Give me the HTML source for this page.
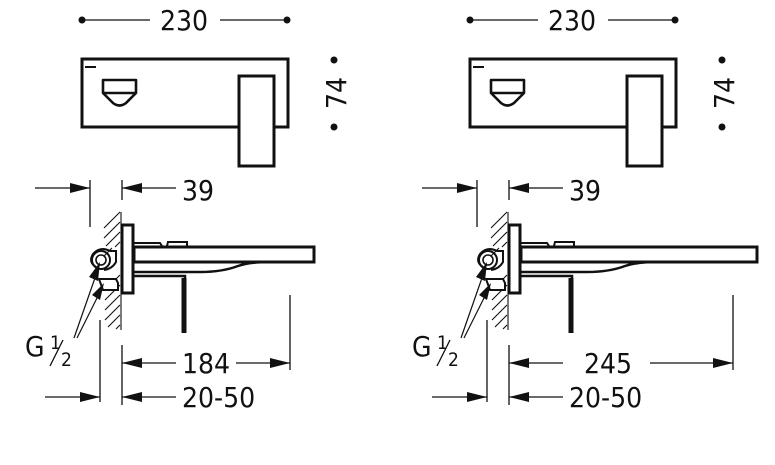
<!DOCTYPE html>
<html><head><meta charset="utf-8"><style>
html,body{margin:0;padding:0;background:#fff}
svg{display:block}
text{font-family:"DejaVu Sans Condensed","Liberation Sans",sans-serif;fill:#111}
</style></head><body>
<svg width="775" height="465" viewBox="0 0 775 465" xmlns="http://www.w3.org/2000/svg">
<!-- LEFT -->
<g>
<circle cx="82" cy="20" r="3.5" fill="#111"/><circle cx="287" cy="20" r="3.5" fill="#111"/>
<line x1="82" y1="20" x2="150" y2="20" stroke="#111" stroke-width="1.3"/>
<line x1="220" y1="20" x2="287" y2="20" stroke="#111" stroke-width="1.3"/>
<text x="184" y="30" font-size="28" text-anchor="middle">230</text>
<rect x="82" y="59" width="206" height="68" fill="none" stroke="#111" stroke-width="3"/>
<line x1="85" y1="67" x2="96" y2="67" stroke="#111" stroke-width="2"/>
<path d="M103,80 L136,80 L136,93 L126,103 Q119.5,108 113,103 L103,93 Z M103,93 L136,93" fill="none" stroke="#111" stroke-width="2.6" stroke-linejoin="round"/>
<rect x="239" y="76" width="35" height="90" fill="#fff" stroke="#111" stroke-width="3"/>
<circle cx="334" cy="60" r="3.5" fill="#111"/><circle cx="334" cy="127" r="3.5" fill="#111"/>
<text transform="translate(346,93) rotate(-90)" font-size="28" text-anchor="middle">74</text>
</g>
<g transform="translate(388,0)">
<circle cx="82" cy="20" r="3.5" fill="#111"/><circle cx="287" cy="20" r="3.5" fill="#111"/>
<line x1="82" y1="20" x2="150" y2="20" stroke="#111" stroke-width="1.3"/>
<line x1="220" y1="20" x2="287" y2="20" stroke="#111" stroke-width="1.3"/>
<text x="184" y="30" font-size="28" text-anchor="middle">230</text>
<rect x="82" y="59" width="206" height="68" fill="none" stroke="#111" stroke-width="3"/>
<line x1="85" y1="67" x2="96" y2="67" stroke="#111" stroke-width="2"/>
<path d="M103,80 L136,80 L136,93 L126,103 Q119.5,108 113,103 L103,93 Z M103,93 L136,93" fill="none" stroke="#111" stroke-width="2.6" stroke-linejoin="round"/>
<rect x="239" y="76" width="35" height="90" fill="#fff" stroke="#111" stroke-width="3"/>
<circle cx="334" cy="60" r="3.5" fill="#111"/><circle cx="334" cy="127" r="3.5" fill="#111"/>
<text transform="translate(346,93) rotate(-90)" font-size="28" text-anchor="middle">74</text>
</g>

<!-- SIDE LEFT -->
<g id="s1">
<g stroke="#111" fill="none">
<line x1="35" y1="188" x2="90" y2="188" stroke-width="1.3"/>
<line x1="90" y1="180" x2="90" y2="227" stroke-width="1.3"/>
<line x1="122" y1="180" x2="122" y2="200" stroke-width="1.3"/>
<line x1="176" y1="188" x2="122" y2="188" stroke-width="1.3"/>
<g stroke-width="1.1">
<line x1="121" y1="212" x2="121" y2="330"/>
<path d="M104,228 L120,212 M104,238 L120,222 M106,246 L120,232 M115,247 L120,242 M110,285 L120,275 M105,300 L120,285 M105,310 L120,295 M105,320 L120,305 M108,327 L120,315 M116,329 L120,325 M104,256 L112,248"/>
</g>
<rect x="122" y="225" width="11" height="68" fill="#fff" stroke-width="3"/>
<path d="M134,243 L160,243 L162,246 M167,246 L168,242 L187,242 L187,247" stroke-width="2"/>
<path d="M134,272 L200,272 Q222,272 238,266 Q250,262 270,262" stroke-width="2.5"/>
<path d="M134,276 L185,276 L185,279" stroke-width="2.5"/>
<line x1="184" y1="278" x2="184" y2="333" stroke-width="5"/>
<path d="M96,267 Q88,262 93,254 Q100,246 110,251 L116,251 L116,262 Q112,269 104,270" stroke-width="2"/>
<circle cx="101" cy="260" r="9" stroke-width="2"/>
<circle cx="101" cy="260" r="5" stroke-width="1.6"/>
<path d="M99,279 L116,279 L118,283 L118,290 L103,290 Z" stroke-width="2" fill="#fff"/>
<line x1="74" y1="338" x2="96" y2="275" stroke-width="1.2"/>
<line x1="77" y1="338" x2="100" y2="292" stroke-width="1.2"/>
<line x1="100" y1="320" x2="100" y2="402" stroke-width="1.3"/>
<line x1="122" y1="345" x2="122" y2="405" stroke-width="1.3"/>
<line x1="45" y1="397" x2="100" y2="397" stroke-width="1.3"/>
<line x1="176" y1="397" x2="122" y2="397" stroke-width="1.3"/>
<line x1="176" y1="363" x2="122" y2="363" stroke-width="1.3"/>
</g>
<g fill="#111">
<path d="M90,188 L70,183 L70,193 Z"/>
<path d="M122,188 L142,183 L142,193 Z"/>
<path d="M100,397 L80,392 L80,402 Z"/>
<path d="M122,397 L142,392 L142,402 Z"/>
<path d="M122,363 L142,358 L142,368 Z"/>
<path d="M100,262 L98,281 L89,277 Z"/>
<path d="M104,283 L100,300 L92,295 Z"/>
</g>
<text x="25" y="356" font-size="28">G</text>
<text x="50" y="349" font-size="19">1</text>
<line x1="50" y1="366" x2="63" y2="340" stroke="#111" stroke-width="1.3"/>
<text x="61" y="366" font-size="19">2</text>
<text x="182" y="200" font-size="28">39</text>
<text x="182" y="407" font-size="28">20-50</text>
</g>

<!-- SIDE RIGHT -->
<g transform="translate(387,0)">
<g stroke="#111" fill="none">
<line x1="35" y1="188" x2="90" y2="188" stroke-width="1.3"/>
<line x1="90" y1="180" x2="90" y2="227" stroke-width="1.3"/>
<line x1="122" y1="180" x2="122" y2="200" stroke-width="1.3"/>
<line x1="176" y1="188" x2="122" y2="188" stroke-width="1.3"/>
<g stroke-width="1.1">
<line x1="121" y1="212" x2="121" y2="330"/>
<path d="M104,228 L120,212 M104,238 L120,222 M106,246 L120,232 M115,247 L120,242 M110,285 L120,275 M105,300 L120,285 M105,310 L120,295 M105,320 L120,305 M108,327 L120,315 M116,329 L120,325 M104,256 L112,248"/>
</g>
<rect x="122" y="225" width="11" height="68" fill="#fff" stroke-width="3"/>
<path d="M134,243 L160,243 L162,246 M167,246 L168,242 L187,242 L187,247" stroke-width="2"/>
<path d="M134,272 L200,272 Q222,272 238,266 Q250,262 270,262" stroke-width="2.5"/>
<path d="M134,276 L185,276 L185,279" stroke-width="2.5"/>
<line x1="184" y1="278" x2="184" y2="333" stroke-width="5"/>
<path d="M96,267 Q88,262 93,254 Q100,246 110,251 L116,251 L116,262 Q112,269 104,270" stroke-width="2"/>
<circle cx="101" cy="260" r="9" stroke-width="2"/>
<circle cx="101" cy="260" r="5" stroke-width="1.6"/>
<path d="M99,279 L116,279 L118,283 L118,290 L103,290 Z" stroke-width="2" fill="#fff"/>
<line x1="74" y1="338" x2="96" y2="275" stroke-width="1.2"/>
<line x1="77" y1="338" x2="100" y2="292" stroke-width="1.2"/>
<line x1="100" y1="320" x2="100" y2="402" stroke-width="1.3"/>
<line x1="122" y1="345" x2="122" y2="405" stroke-width="1.3"/>
<line x1="45" y1="397" x2="100" y2="397" stroke-width="1.3"/>
<line x1="176" y1="397" x2="122" y2="397" stroke-width="1.3"/>
<line x1="176" y1="363" x2="122" y2="363" stroke-width="1.3"/>
</g>
<g fill="#111">
<path d="M90,188 L70,183 L70,193 Z"/>
<path d="M122,188 L142,183 L142,193 Z"/>
<path d="M100,397 L80,392 L80,402 Z"/>
<path d="M122,397 L142,392 L142,402 Z"/>
<path d="M122,363 L142,358 L142,368 Z"/>
<path d="M100,262 L98,281 L89,277 Z"/>
<path d="M104,283 L100,300 L92,295 Z"/>
</g>
<text x="25" y="356" font-size="28">G</text>
<text x="50" y="349" font-size="19">1</text>
<line x1="50" y1="366" x2="63" y2="340" stroke="#111" stroke-width="1.3"/>
<text x="61" y="366" font-size="19">2</text>
<text x="182" y="200" font-size="28">39</text>
<text x="182" y="407" font-size="28">20-50</text>
</g>

<!-- spouts & long dims -->
<g stroke="#111" fill="none">
<rect x="134" y="247" width="180" height="15" fill="#fff" stroke-width="3"/>
<rect x="521" y="247" width="236" height="15" fill="#fff" stroke-width="3"/>
<line x1="290" y1="295" x2="290" y2="370" stroke-width="1.3"/>
<line x1="236" y1="363" x2="290" y2="363" stroke-width="1.3"/>
<line x1="733" y1="295" x2="733" y2="370" stroke-width="1.3"/>
<line x1="650" y1="363" x2="733" y2="363" stroke-width="1.3"/>
</g>
<g fill="#111">
<path d="M290,363 L270,358 L270,368 Z"/>
<path d="M733,363 L713,358 L713,368 Z"/>
</g>
<text x="206" y="373" font-size="28" text-anchor="middle">184</text>
<text x="608" y="373" font-size="28" text-anchor="middle">245</text>
</svg>
</body></html>
